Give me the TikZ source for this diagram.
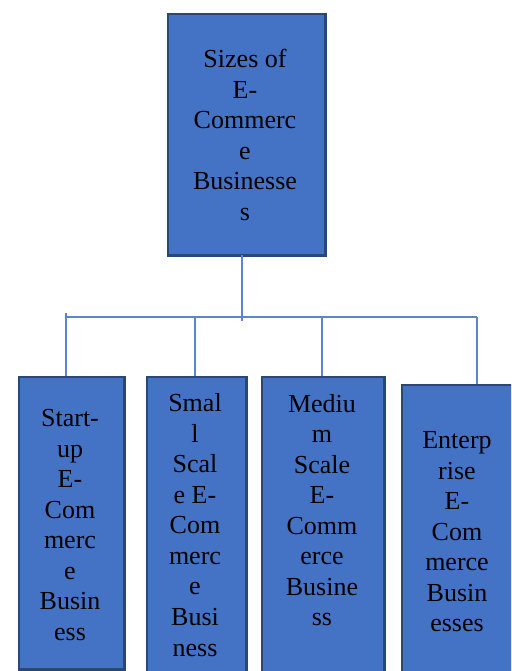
\documentclass[tikz,border=0pt]{standalone}
\usepackage{fontspec}
\setmainfont{Liberation Serif}
\definecolor{boxfill}{HTML}{4472C4}
\definecolor{boxedge}{HTML}{2A4776}
\definecolor{linecol}{HTML}{5A86D0}
\begin{document}
\begin{tikzpicture}[x=0.75pt,y=-0.75pt,
  box/.style={draw=boxedge,fill=boxfill,line width=2.2pt,inner sep=0pt,anchor=north west},
  txt/.style={align=center,inner sep=0pt,font=\fontsize{19.5}{22.9}\selectfont},
  conn/.style={draw=linecol,line width=1pt}]
\useasboundingbox (0,0) rectangle (511,671);
\clip (0,0) rectangle (511,671);
\fill[white] (0,0) rectangle (511,671);
% boxes
\node[box,minimum width=157.5*0.75pt,minimum height=241.5*0.75pt] (T) at (166.5,12.5) {};
\node[box,minimum width=105.5*0.75pt,minimum height=292.5*0.75pt] (b1) at (17.5,375.5) {};
\node[box,minimum width=99.5*0.75pt,minimum height=310*0.75pt] (b2) at (145.5,375.5) {};
\node[box,minimum width=122.5*0.75pt,minimum height=310*0.75pt] (b3) at (260.5,375.5) {};
\node[box,minimum width=113.5*0.75pt,minimum height=300*0.75pt] (b4) at (400.5,383.5) {};
% texts
\node[txt] (tT) at (245,135) {Sizes of\\E-\\Commerc\\e\\Businesse\\s};
\node[txt] (t1) at (70,525) {Start-\\up\\E-\\Com\\merc\\e\\Busin\\ess};
\node[txt] (t2) at (195,525) {Smal\\l\\Scal\\e E-\\Com\\merc\\e\\Busi\\ness};
\node[txt] (t3) at (322,510) {Mediu\\m\\Scale\\E-\\Comm\\erce\\Busine\\ss};
\node[txt] (t4) at (457,532) {Enterp\\rise\\E-\\Com\\merce\\Busin\\esses};
% connectors
\coordinate (hub) at (242,321);
\coordinate (top) at (242,255);
\coordinate (bl) at (66,313);
\coordinate (d1) at (66,317);
\coordinate (d2) at (195,317);
\coordinate (d3) at (322,317);
\coordinate (d4) at (477,317);
\draw[conn] (top) -- (hub);
\draw[conn] (bl) -- (d1) -- (d4);
\draw[conn] (d1) -- (d1 |- b1.north);
\draw[conn] (d2) -- (d2 |- b2.north);
\draw[conn] (d3) -- (d3 |- b3.north);
\draw[conn] (d4) -- (d4 |- b4.north);
\end{tikzpicture}
\end{document}
